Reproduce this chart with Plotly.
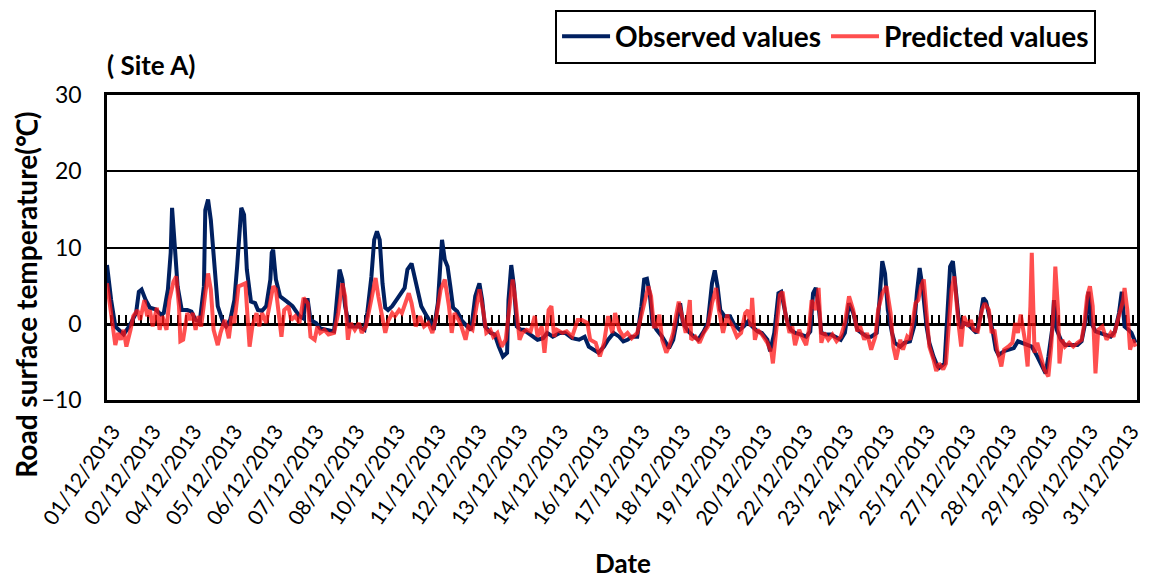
import numpy as np
import plotly.graph_objects as go

# ---------------- data (hourly index through December 2013) ----------------
date_labels = ["01/12/2013", "02/12/2013", "04/12/2013", "05/12/2013", "06/12/2013",
               "07/12/2013", "08/12/2013", "10/12/2013", "11/12/2013", "12/12/2013",
               "13/12/2013", "14/12/2013", "16/12/2013", "17/12/2013", "18/12/2013",
               "19/12/2013", "20/12/2013", "22/12/2013", "23/12/2013", "24/12/2013",
               "25/12/2013", "27/12/2013", "28/12/2013", "29/12/2013", "30/12/2013",
               "31/12/2013"]

obs_hour = [0, 3, 6, 9, 12, 16, 21, 23, 25, 28, 31, 35, 39, 41, 44, 46, 47, 49, 51, 54,
            58, 61, 64, 67, 70, 71, 73, 75, 78, 80, 84, 86, 89, 92, 94, 96, 97, 99, 101, 104,
            107, 109, 112, 115, 118, 119, 120, 122, 125, 130, 134, 139, 142, 143, 145, 147, 151,
            154, 159, 164, 166, 168, 170, 172, 175, 178, 182, 186, 188, 191, 193, 195, 197, 199,
            201, 203, 206, 209, 212, 215, 217, 220, 221, 224, 227, 231, 234, 236, 239, 241, 242,
            244, 246, 248, 250, 253, 256, 260, 263, 266, 269, 271, 273, 277, 280, 283, 286, 289,
            290, 292, 294, 296, 299,
            301, 306, 311, 315, 318, 322, 327, 331, 336, 341, 345, 348, 352, 355, 359, 362, 366,
            370, 373, 376, 379, 383, 386, 388, 390, 392, 394, 397, 401, 404, 406, 409, 412, 414,
            416, 420, 424, 427, 431, 434, 437, 439, 441, 443, 446,
            450, 453, 457, 460, 463, 466, 470, 473, 477, 479, 482, 485, 487, 489, 491, 494, 497,
            501, 505, 508, 510, 512, 514, 516, 519, 523, 526, 530, 533, 535, 536, 539, 542, 545,
            549, 552, 556, 558, 560, 562, 564, 567, 569, 573, 576, 580, 583, 585, 587, 589, 592,
            594, 597,
            600, 601, 605, 607, 609, 611, 613, 615, 617, 619, 622, 625, 628, 631, 633, 635, 637,
            640, 642, 644, 648, 651, 655, 658, 661, 665, 668, 672, 676, 678, 680, 683, 684, 686,
            689, 692, 696, 701, 704, 707, 709, 711, 714, 717, 721, 725, 728, 731, 733, 735, 738,
            740, 743]

obs_temp = [7.7, 3.1, -0.35, -0.8, -1.4, -0.35, 1.4, 4.2, 4.5, 3.1, 2.1, 1.9, 1.2, 1.4, 4.5,
            9.3, 15.2, 10.1, 4.9, 1.8, 1.8, 1.6, 0.5, 0.3, 4.9, 14.9, 16.3, 13.6, 6.2, 2.3,
            0.1, -0.35, 0.5, 3.1, 7.5, 11.9, 15.2, 14.3, 7.1, 2.9, 2.7, 1.8, 1.7, 2.3, 5.8,
            9.3, 9.7, 5.8, 3.6, 2.9, 2.3, 1.0, 0.7, 3.1, 3.1, 0.5, 0.1,
            -0.6, -0.8, -1.0, 3.1, 7.1, 5.8, 2.3, -0.35, -0.35, -0.35, -0.8, 1.4, 6.2, 11.0,
            12.1, 11.0, 5.3, 2.1, 1.8, 2.3, 3.1, 3.8, 4.7, 7.1, 7.9, 7.1, 4.5, 2.3, 1.0, 0.1,
            -0.8, 2.7, 8.4, 11.0, 8.4, 7.5, 4.9, 2.1, 1.6, 0.5, -0.35, -0.8, 3.6, 5.3, 3.1,
            -0.35, -1.2, -1.4, -3.0, -4.3, -3.8, 3.1, 7.7, 4.9, -0.35, -0.8,
            -0.8, -1.4, -2.1, -1.9, -1.2, -1.7, -1.2, -1.2, -1.9, -2.1, -1.7, -3.0, -3.4, -3.8,
            -3.0, -2.1, -1.2, -1.7, -2.3, -2.1, -1.7, -1.7, 2.3, 5.8, 5.9, 4.0, 0.1, -0.8, -1.7,
            -2.5, -3.2, -2.1, 1.0, 2.7, 0.1, -1.0, -1.7, -2.1, -1.0, 0.1, 5.3, 7.0, 4.9, 1.8, 1.0,
            1.0, -0.1, -0.8, -0.35, 0.3, -0.35, -1.0, -1.2, -2.1, -3.6, -1.2, 4.0, 4.2, 2.3, 0.5,
            -0.8, -1.2, -1.4, -1.7, -1.0, 4.0, 4.7, 2.3, -1.2, -1.4, -1.4, -1.7, -2.1, -1.2, 1.8,
            2.7, 1.4, -0.8, -1.2, -1.7, -1.7, -1.2, 3.1, 8.2, 6.6, 1.8, -1.2, -2.5, -3.0, -2.5,
            -2.3, -0.35, 4.0, 7.3, 4.9, -0.35, -2.5, -4.3,
            -5.6, -5.8, -5.2, 1.0, 7.5, 8.2, 4.9, 1.0, -0.6, 0.1, -0.1, -0.6, -1.2, 1.0, 3.4, 2.9,
            1.4, -1.2, -3.4, -4.1, -3.6, -3.4, -3.2, -2.3, -2.5, -2.8, -3.0, -4.3, -5.6, -6.5,
            -4.3, -0.35, 3.1, -0.8, -2.1, -2.8, -2.8, -2.8, -2.3, 0.5, 4.2, 0.1, -1.0, -1.2, -1.4,
            -1.7, -1.0, 1.4, 4.2, -0.35, -0.8, -1.2, -2.5]

pred_hour = [0, 3, 6, 8, 10, 12, 14, 17, 19, 22, 24, 27, 29, 31, 33, 36, 38, 40, 43, 45, 48,
             50, 52, 53, 55, 58, 60, 62, 64, 66, 68, 71, 73, 75, 77, 80, 82, 85, 88, 90, 92, 95,
             97, 100, 101, 103, 105, 108, 110, 112, 115, 118, 120, 122, 124, 126, 128, 131, 133,
             136, 139, 142, 145, 147,
             150, 152, 154, 157, 160, 164, 167, 170, 172, 174, 176, 179, 182, 184, 187, 190, 194,
             196, 199, 201, 203, 206, 208, 211, 213, 215, 218, 220, 221, 223, 226, 229, 232, 235,
             238, 241, 244, 247, 249, 251, 254, 256, 259, 261, 264, 267, 269, 272, 274, 277, 279,
             282, 285, 288, 291, 293, 295, 298, 300,
             303, 306, 309, 311, 314, 316, 319, 321, 323, 325, 329, 332, 336, 340, 343, 347, 349,
             353, 356, 359, 362, 365, 367, 370, 373, 376, 379, 383, 386, 389, 391, 393, 395, 397,
             399, 401, 404, 406, 409, 411, 413, 416, 418, 421, 422, 425, 428, 431, 434, 437, 440,
             442, 445, 448,
             449, 452, 455, 458, 461, 463, 465, 466, 468, 470, 473, 477, 480, 481, 484, 486, 488,
             490, 493, 495, 497, 500, 502, 505, 507, 509, 512, 514, 516, 518, 521, 524, 527, 530,
             533, 536, 539, 542, 544, 547, 549, 552, 555, 557, 560, 563, 566, 568, 570, 573, 575,
             578, 580, 584, 586, 588, 590, 592, 594, 597,
             599, 601, 604, 606, 609, 610, 612, 613, 615, 617, 619, 622, 624, 626, 629, 632, 634,
             637, 639, 641, 643, 646, 648, 651, 654, 656, 658, 660, 663, 665, 667, 668, 669, 670,
             672, 675, 677, 680, 682, 684, 685, 687, 688, 690, 692, 695, 698, 701, 704, 706, 708,
             710, 712, 713, 714, 716, 719, 722, 725, 727, 731, 734, 735, 737, 739, 741, 743]

pred_temp = [5.3, 1.4, -2.8, -1.2, -2.1, -0.8, -3.0, -0.8, 1.0, 1.8, 0.5, 3.1, 1.0, 1.8, -0.35,
             2.1, -0.8, 1.0, -0.8, 3.1, 5.5, 6.2, 2.3, -2.3, -2.1, 1.4, 0.5, 1.4, -0.8, 1.0,
             -0.35, 4.0, 6.6, 4.5, -0.8, -2.8, -1.2, 0.5, -1.9, 1.0, 0.1, 4.9, 5.1, 5.3, 2.3,
             -3.0, -0.35, 1.4, -0.35, 1.4, 0.1, 3.1, 4.9, 4.5, 1.4, -1.7, 1.8, 2.3, 0.5, 1.0,
             0.1, 3.4, 2.7, -1.7,
             -2.1, -0.35, -1.2, -0.8, -1.4, -1.2, 1.4, 5.3, 3.6, -2.1, 0.1, -0.8, 0.1, -1.2,
             -0.35, 2.3, 6.0, 3.6, 1.0, -1.2, 0.3, 1.4, 1.0, 1.8, 1.4, 2.3, 4.0, 2.7, 1.4, -0.35,
             1.0, -0.35, 0.1, -1.2, 1.0, 4.5, 5.8, 2.3, -1.2, 1.4, 0.5, -0.35, -2.1, -0.35, -0.8,
             2.7, 4.5, 1.4, -1.2, -0.8, -1.7, -1.2, -3.0, -2.1, 3.1, 5.8, 3.1, -2.1, -1.2,
             -0.8, -1.0, 1.0, -1.7, -0.35, -3.8, 1.8, 2.3, -1.7, -0.8, -1.2, -1.0, -1.7, 0.5, 0.5,
             0.1, -2.1, -2.5, -4.3, -2.5, 1.0, -1.2, 1.4, -0.8, -1.7, -1.2, -1.9, -1.2, 1.0, 3.6,
             4.9, 3.6, -0.35, -0.35, 1.2, -2.1, -3.8, -3.0, -1.2, 1.0, 2.9, 0.5, -1.2, 3.1, -2.1,
             -1.7, -2.5, -1.2, -0.35, 2.7, 4.7, 1.8, -1.2, 1.2,
             0.5, -0.35, -1.7, -1.2, 1.4, 1.8, -0.35, 3.4, -2.1, -0.8, -1.4, -2.5, -3.8, -5.2,
             -0.35, 3.8, 4.2, 1.4, -1.2, -0.35, -2.8, -0.8, -1.7, -2.8, -0.8, 3.1, 1.8, 4.7, -2.5,
             -1.2, -2.1, -1.4, -2.3, -1.7, 0.1, 3.6, 1.8, -1.0, -0.35, -2.1, -1.2, -3.4, -1.7, 1.8,
             4.0, 4.9, 1.4, -3.0, -4.7, -2.1, -3.4, -1.7, -2.1, 2.7, 3.1, 4.9, 5.8, 1.4, -3.0, -4.7,
             -6.2, -5.2, -6.0, -5.2, 1.0, 4.5, 6.2, 4.0, 0.1, -3.0, 1.0, -0.35, 0.5, -0.8, -1.0,
             1.8, 2.7, 1.8, -1.2, -0.8, -3.4, -5.6, -3.4, -3.0, -2.5, 0.1, -1.2, 1.2, -2.1, -5.6,
             2.3, 9.3, 3.1, -3.8, -2.5, -4.7, -6.0, -6.9, -3.0, 2.7, 7.5, 1.8, -5.2, -2.1, -3.0,
             -2.5, -3.0, -2.5, -2.1, 0.1, 3.6, 4.9, 2.3, -2.1, -6.5, -0.8, -0.35, -2.1, -1.2, -1.7,
             1.0, 3.1, 4.7, 1.8, -3.4, -2.1, -3.0]

X_RANGE = [0, 744]
Y_RANGE = [-10, 30]

# ---------------- figure ----------------
FONT = "Lato"
fig = go.Figure()
fig.add_trace(go.Scatter(x=obs_hour, y=obs_temp, mode="lines", name="Observed values",
                         line=dict(color="#002060", width=4)))
fig.add_trace(go.Scatter(x=pred_hour, y=pred_temp, mode="lines", name="Predicted values",
                         xaxis="x2", yaxis="y",
                         line=dict(color="rgba(255,20,20,0.75)", width=4)))

tickpos = np.linspace(4, 740, len(date_labels))

fig.update_layout(
    width=1149, height=579,
    margin=dict(l=107, r=6, t=95, b=179),
    paper_bgcolor="white", plot_bgcolor="white",
    font=dict(family=FONT, color="black"),
    showlegend=True,
    legend=dict(orientation="h", x=0.435, xanchor="left", y=1.28, yanchor="top",
                bordercolor="black", borderwidth=2, bgcolor="white", itemwidth=48,
                font=dict(family=FONT, size=28, color="black", weight="bold")),
    xaxis=dict(range=X_RANGE, tickmode="array", tickvals=tickpos, ticktext=date_labels,
               tickangle=-55, ticks="", showgrid=False, zeroline=False,
               showline=True, mirror=True, linecolor="black", linewidth=2.5,
               tickfont=dict(family=FONT, size=21, color="black"), ticklabelstandoff=8),
    xaxis2=dict(range=X_RANGE, overlaying="x", anchor="free", position=0.25,
                tickmode="linear", tick0=3, dtick=5.39, ticks="inside", ticklen=8,
                tickwidth=2, tickcolor="black", showticklabels=False, showgrid=False,
                zeroline=False, showline=True, linecolor="black", linewidth=3,
                layer="below traces"),
    yaxis=dict(range=Y_RANGE, dtick=10, tick0=-10, showgrid=True, gridcolor="black",
               gridwidth=2, zeroline=False, showline=True, mirror=True, linecolor="black",
               linewidth=2.5, ticks="", tickfont=dict(family=FONT, size=23, color="black"),
               ticklabelstandoff=18),
    annotations=[
        dict(text="( Site A)", xref="paper", yref="paper", x=-0.002, y=1.098,
             xanchor="left", yanchor="middle", showarrow=False,
             font=dict(family=FONT, size=26, color="black", weight="bold")),
        dict(text="Road surface temperature(℃)", xref="paper", yref="paper",
             x=-0.079, y=0.344, xanchor="center", yanchor="middle", textangle=-90,
             showarrow=False, font=dict(family=FONT, size=28, color="black", weight="bold")),
        dict(text="Date", xref="paper", yref="paper", x=0.501, y=-0.535,
             xanchor="center", yanchor="middle", showarrow=False,
             font=dict(family=FONT, size=26, color="black", weight="bold")),
    ],
)

fig.write_html("out.html")
